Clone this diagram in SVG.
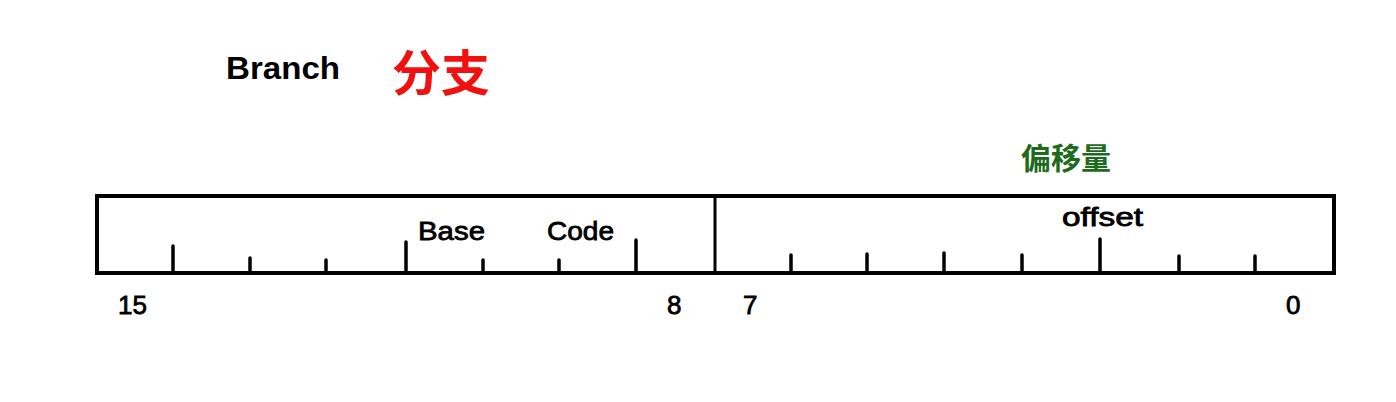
<svg xmlns="http://www.w3.org/2000/svg" width="1396" height="402" viewBox="0 0 1396 402">
<style>
.lbl{font-family:"Liberation Sans",Arial,sans-serif;font-size:26px;fill:#000;stroke:#000;stroke-width:0.8}
.tk{stroke:#000;stroke-width:3.5;stroke-linecap:round}
.box{fill:none;stroke:#000;stroke-width:4}
</style>
<rect width="1396" height="402" fill="#fff"/>
<g id="title">
<text x="226" y="79" font-family="Liberation Sans,Arial,sans-serif" font-weight="bold" font-size="31" textLength="114" lengthAdjust="spacingAndGlyphs">Branch</text>
<text x="392" y="91" font-family="'Noto Sans CJK SC',sans-serif" font-weight="bold" font-size="49" fill="#f01010">分支</text>
</g>
<g id="offset-cn">
<text x="1021" y="169" font-family="'Noto Sans CJK SC',sans-serif" font-weight="bold" font-size="30" fill="#1e6b1e">偏移量</text>
</g>
<g id="register">
<rect class="box" x="97" y="196" width="1237" height="77"/>
<line x1="715" y1="196" x2="715" y2="273" stroke="#000" stroke-width="3"/>
</g>
<g id="ticks">
<line class="tk" x1="173" y1="246" x2="173" y2="273"/>
<line class="tk" x1="250" y1="258" x2="250" y2="273"/>
<line class="tk" x1="326" y1="260" x2="326" y2="273"/>
<line class="tk" x1="406" y1="242" x2="406" y2="273"/>
<line class="tk" x1="483" y1="260" x2="483" y2="273"/>
<line class="tk" x1="559" y1="260" x2="559" y2="273"/>
<line class="tk" x1="636" y1="240" x2="636" y2="273"/>
<line class="tk" x1="791" y1="255" x2="791" y2="273"/>
<line class="tk" x1="867" y1="254" x2="867" y2="273"/>
<line class="tk" x1="944" y1="253" x2="944" y2="273"/>
<line class="tk" x1="1022" y1="255" x2="1022" y2="273"/>
<line class="tk" x1="1100" y1="239" x2="1100" y2="273"/>
<line class="tk" x1="1179" y1="256" x2="1179" y2="273"/>
<line class="tk" x1="1255" y1="256" x2="1255" y2="273"/>
</g>
<g id="fields">
<text class="lbl" x="418" y="240" font-size="29" textLength="67" lengthAdjust="spacingAndGlyphs">Base</text>
<text class="lbl" x="547" y="240" font-size="29" textLength="67" lengthAdjust="spacingAndGlyphs">Code</text>
<text class="lbl" x="1062" y="226" font-size="25" textLength="81" lengthAdjust="spacingAndGlyphs">offset</text>
</g>
<g id="bits">
<text class="lbl" x="118" y="314" font-size="27">15</text>
<text class="lbl" x="667" y="314" font-size="27">8</text>
<text class="lbl" x="743" y="314" font-size="27">7</text>
<text class="lbl" x="1286" y="314" font-size="27">0</text>
</g>
</svg>
